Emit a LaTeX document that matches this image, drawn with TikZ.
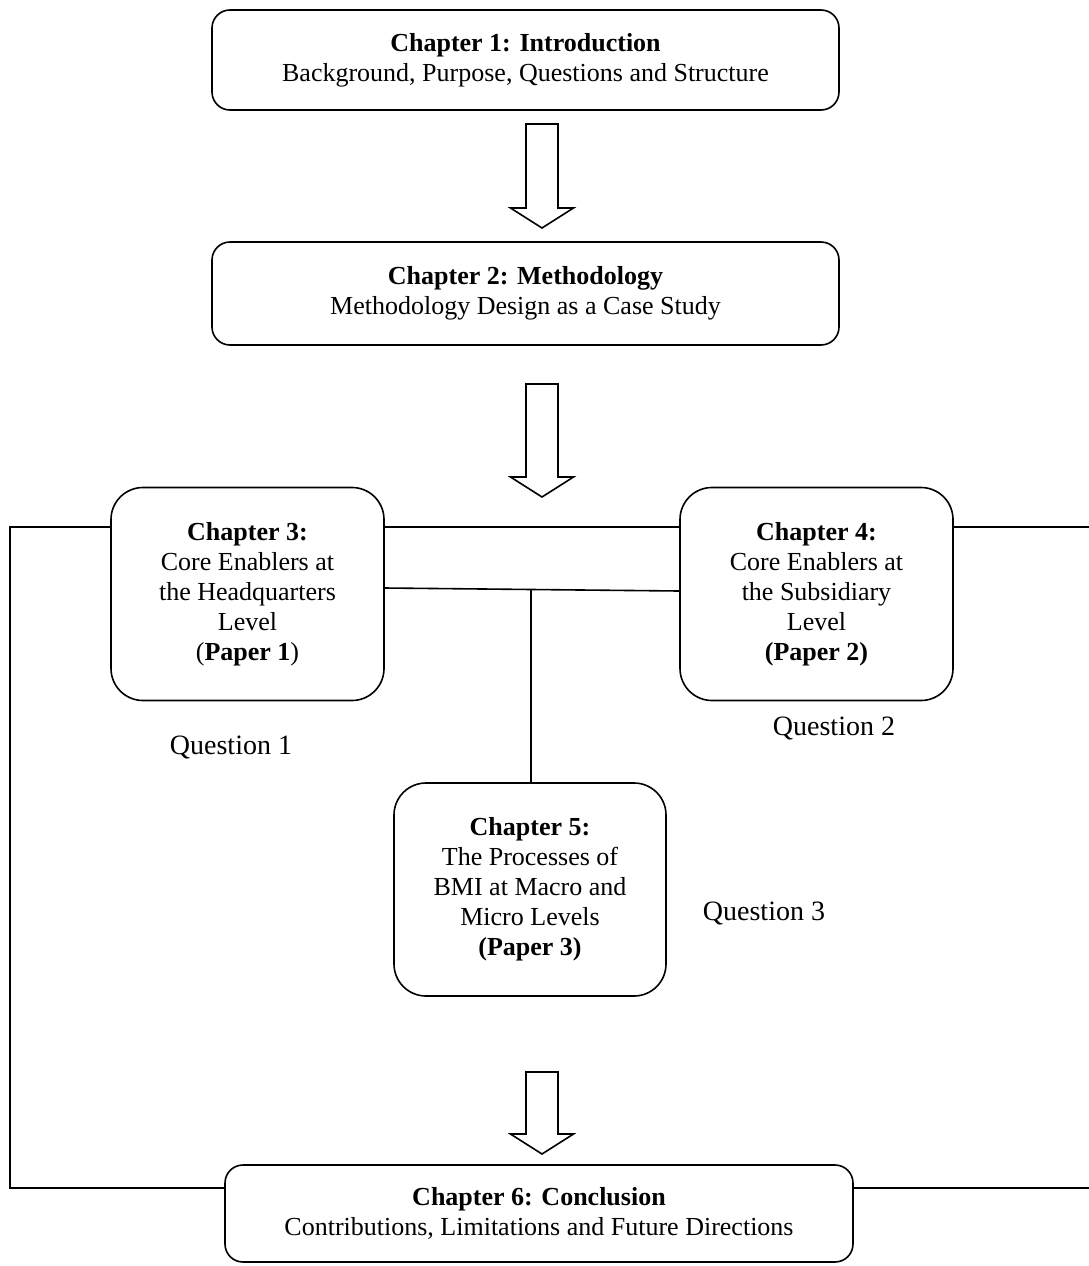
\documentclass[tikz,border=0pt]{standalone}
\usepackage{fontspec}
\setmainfont{Liberation Serif}
\usetikzlibrary{calc}
\newcommand{\blockarr}[3]{%
  \draw[line width=1.6pt, line join=miter] (526,#1) -- (558,#1) -- (558,#2) -- (573.5,#2) -- (542,#3) -- (510.5,#2) -- (526,#2) -- cycle;}
\begin{document}
\begin{tikzpicture}[x=1pt,y=-1pt,
  box/.style={draw, line width=1.6pt, rounded corners=#1, align=center, inner sep=0pt,
    font=\fontsize{26}{30}\selectfont},
  box/.default=18pt,
  qlabel/.style={font=\fontsize{28}{32}\selectfont, inner sep=0pt},
  conn/.style={line width=1.6pt}]
\useasboundingbox (0,0) rectangle (1089,1266);
% boxes
\node[box, minimum width=627pt, minimum height=100pt] (b1) at (525.5,60)
  {\textbf{Chapter 1: Introduction}\\Background, Purpose, Questions and Structure};
\node[box, minimum width=627pt, minimum height=103pt] (b2) at (525.5,293.5)
  {\textbf{Chapter 2: Methodology}\\Methodology Design as a Case Study};
\node[box=32pt, minimum width=273pt, minimum height=213pt] (b3) at (247.5,594)
  {\textbf{Chapter 3:}\\Core Enablers at\\the Headquarters\\Level\\(\textbf{Paper 1})};
\node[box=32pt, minimum width=273pt, minimum height=213pt] (b4) at (816.5,594)
  {\textbf{Chapter 4:}\\Core Enablers at\\the Subsidiary\\Level\\\textbf{(Paper 2)}};
\node[box=32pt, minimum width=272pt, minimum height=213pt] (b5) at (530,889.5)
  {\textbf{Chapter 5:}\\The Processes of\\BMI at Macro and\\Micro Levels\\\textbf{(Paper 3)}};
\node[box, minimum width=628pt, minimum height=97pt] (b6) at (539,1213.5)
  {\textbf{Chapter 6: Conclusion}\\Contributions, Limitations and Future Directions};
% question labels
\node[qlabel] (q1) at (231,747) {Question 1};
\node[qlabel] (q2) at (834,728) {Question 2};
\node[qlabel] (q3) at (764,913) {Question 3};
% helper coordinates
\coordinate (yA) at (0,527);
\coordinate (yB) at (0,1188);
\coordinate (yC) at (0,588);
\coordinate (yD) at (0,591);
\coordinate (cL1) at (10,527);
\coordinate (cL2) at (10,1188);
\coordinate (cR1) at (1089,527);
\coordinate (cR2) at (1089,1188);
\coordinate (j) at (531,589.5);
% connectors
\draw[conn] (b3.west |- yA) -- (cL1) -- (cL2) -- (b6.west |- yB);
\draw[conn] (b3.east |- yA) -- (b4.west |- yA);
\draw[conn] (b4.east |- yA) -- (cR1);
\draw[conn] (b6.east |- yB) -- (cR2);
\draw[conn] (b3.east |- yC) -- (b4.west |- yD);
\draw[conn] (j) -- (j |- b5.north);
% block arrows
\blockarr{124}{208}{228}
\blockarr{384}{477}{497}
\blockarr{1072}{1134}{1154}
\end{tikzpicture}
\end{document}
